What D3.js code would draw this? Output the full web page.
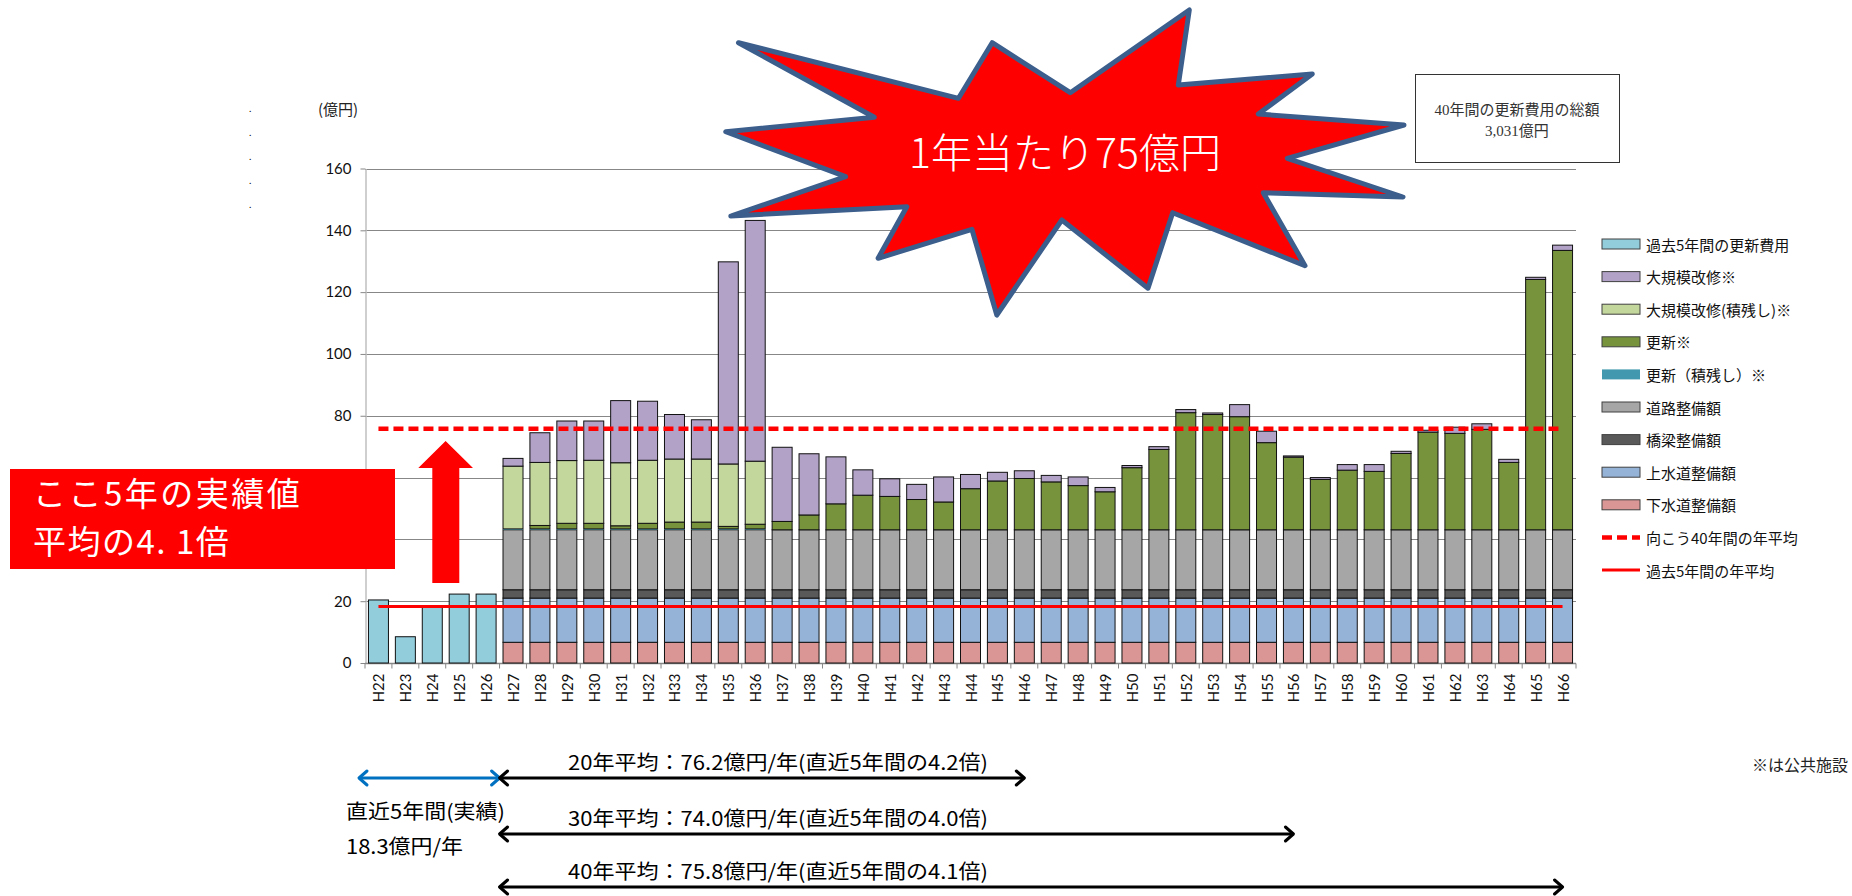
<!DOCTYPE html>
<html lang="ja">
<head>
<meta charset="utf-8">
<script src="https://cdn.jsdelivr.net/npm/d3@7"></script>
<style>
  html, body { margin: 0; padding: 0; background: #fff; }
  svg { display: block; }
  text { font-family: Lato, "Noto Sans CJK JP", sans-serif; }
  .jp { font-family: "Noto Sans CJK JP", sans-serif; }
</style>
</head>
<body>
<div id="chart"></div>
<script>
// categories (fiscal years, Heisei)
const years = ['H22', 'H23', 'H24', 'H25', 'H26', 'H27', 'H28', 'H29', 'H30', 'H31',
  'H32', 'H33', 'H34', 'H35', 'H36', 'H37', 'H38', 'H39', 'H40', 'H41',
  'H42', 'H43', 'H44', 'H45', 'H46', 'H47', 'H48', 'H49', 'H50', 'H51',
  'H52', 'H53', 'H54', 'H55', 'H56', 'H57', 'H58', 'H59', 'H60', 'H61',
  'H62', 'H63', 'H64', 'H65', 'H66'];

// actual renewal cost, H22-H26 (億円)
const pastCost = [20.4, 8.5, 18.0, 22.3, 22.3];

// forecast, H27-H66 (億円), bottom to top
const sewer = [6.7, 6.7, 6.7, 6.7, 6.7, 6.7, 6.7, 6.7, 6.7, 6.7,
  6.7, 6.7, 6.7, 6.7, 6.7, 6.7, 6.7, 6.7, 6.7, 6.7,
  6.7, 6.7, 6.7, 6.7, 6.7, 6.7, 6.7, 6.7, 6.7, 6.7,
  6.7, 6.7, 6.7, 6.7, 6.7, 6.7, 6.7, 6.7, 6.7, 6.7];
const water = [14.3, 14.3, 14.3, 14.3, 14.3, 14.3, 14.3, 14.3, 14.3, 14.3,
  14.3, 14.3, 14.3, 14.3, 14.3, 14.3, 14.3, 14.3, 14.3, 14.3,
  14.3, 14.3, 14.3, 14.3, 14.3, 14.3, 14.3, 14.3, 14.3, 14.3,
  14.3, 14.3, 14.3, 14.3, 14.3, 14.3, 14.3, 14.3, 14.3, 14.3];
const bridge = [2.7, 2.7, 2.7, 2.7, 2.7, 2.7, 2.7, 2.7, 2.7, 2.7,
  2.7, 2.7, 2.7, 2.7, 2.7, 2.7, 2.7, 2.7, 2.7, 2.7,
  2.7, 2.7, 2.7, 2.7, 2.7, 2.7, 2.7, 2.7, 2.7, 2.7,
  2.7, 2.7, 2.7, 2.7, 2.7, 2.7, 2.7, 2.7, 2.7, 2.7];
const road = [19.4, 19.4, 19.4, 19.4, 19.4, 19.4, 19.4, 19.4, 19.4, 19.4,
  19.4, 19.4, 19.4, 19.4, 19.4, 19.4, 19.4, 19.4, 19.4, 19.4,
  19.4, 19.4, 19.4, 19.4, 19.4, 19.4, 19.4, 19.4, 19.4, 19.4,
  19.4, 19.4, 19.4, 19.4, 19.4, 19.4, 19.4, 19.4, 19.4, 19.4];
const renewBacklog = [0.3, 0.3, 0.3, 0.3, 0.3, 0.3, 0.3, 0.3, 0.3, 0.3,
  0, 0, 0, 0, 0, 0, 0, 0, 0, 0,
  0, 0, 0, 0, 0, 0, 0, 0, 0, 0,
  0, 0, 0, 0, 0, 0, 0, 0, 0, 0];
const renew = [0, 1.1, 1.8, 1.8, 1.0, 1.8, 2.2, 2.2, 0.8, 1.5,
  2.7, 4.8, 8.4, 11.2, 10.8, 9.8, 9.0, 13.3, 15.8, 16.6,
  15.5, 14.3, 12.3, 20.1, 26.0, 37.9, 37.3, 36.6, 28.2, 23.5,
  16.3, 19.3, 18.9, 24.7, 31.6, 31.2, 32.5, 21.8, 81.0, 90.4];
const majorBacklog = [20.3, 20.4, 20.3, 20.4, 20.4, 20.4, 20.4, 20.4, 20.2, 20.4,
  0, 0, 0, 0, 0, 0, 0, 0, 0, 0,
  0, 0, 0, 0, 0, 0, 0, 0, 0, 0,
  0, 0, 0, 0, 0, 0, 0, 0, 0, 0];
const major = [2.5, 9.6, 12.8, 12.7, 20.1, 19.1, 14.4, 12.7, 65.4, 77.9,
  24.0, 19.8, 15.2, 8.2, 5.7, 4.9, 8.1, 4.6, 2.8, 2.5,
  2.1, 2.8, 1.4, 0.7, 0.9, 1.0, 0.5, 3.9, 3.7, 0.4,
  0.6, 1.8, 2.2, 0.7, 0.6, 2.0, 1.8, 1.0, 0.7, 1.7];

// averages (億円/年)
const avgFuture = 75.8;
const avgPast = 18.3;

const yTicks = [0, 20, 40, 60, 80, 100, 120, 140, 160];

const seriesKeys = ['past', 'sewer', 'water', 'bridge', 'road', 'renewBacklog', 'renew', 'majorBacklog', 'major'];
const seriesNames = {
  past: '過去5年間の更新費用',
  major: '大規模改修※',
  majorBacklog: '大規模改修(積残し)※',
  renew: '更新※',
  renewBacklog: '更新（積残し）※',
  road: '道路整備額',
  bridge: '橋梁整備額',
  water: '上水道整備額',
  sewer: '下水道整備額',
};
const legendOrder = ['past', 'major', 'majorBacklog', 'renew', 'renewBacklog', 'road', 'bridge', 'water', 'sewer'];

const spans = [
  { label: '20年平均：76.2億円/年(直近5年間の4.2倍)', from: 'H27', to: 'H46' },
  { label: '30年平均：74.0億円/年(直近5年間の4.0倍)', from: 'H27', to: 'H56' },
  { label: '40年平均：75.8億円/年(直近5年間の4.1倍)', from: 'H27', to: 'H66' },
];

const visualConfig = {
  area: { width: 1852, height: 896 },
  plot: { left: 365, right: 1576, top: 168.5, bottom: 663 },
  color: {
    past: '#92CDDC',
    major: '#B2A2C7',
    majorBacklog: '#C3D69B',
    renew: '#77933C',
    renewBacklog: '#4198AF',
    road: '#A6A6A6',
    bridge: '#595959',
    water: '#95B3D7',
    sewer: '#D99694',
  },
  grid: '#878787',
  avg: '#FF0000',
};

// build table rows for d3.stack
const rows = years.map((year, i) => {
  const row = { year };
  seriesKeys.forEach((k) => (row[k] = 0));
  if (i < pastCost.length) {
    row.past = pastCost[i];
  } else {
    const j = i - pastCost.length;
    row.sewer = sewer[j];
    row.water = water[j];
    row.bridge = bridge[j];
    row.road = road[j];
    row.renewBacklog = renewBacklog[j];
    row.renew = renew[j];
    row.majorBacklog = majorBacklog[j];
    row.major = major[j];
  }
  return row;
});

const stacked = d3.stack().keys(seriesKeys)(rows);

const svg = d3
  .select('#chart')
  .append('svg')
  .attr('width', visualConfig.area.width)
  .attr('height', visualConfig.area.height);

const p = visualConfig.plot;

const x = d3
  .scaleBand()
  .domain(years)
  .range([p.left, p.right])
  .paddingInner(0.257)
  .paddingOuter(0.1285);

const y = d3.scaleLinear().domain([0, 160]).range([p.bottom, p.top]);

const step = x.step();
const xStart = (d) => x(d) - (step - x.bandwidth()) / 2;
const xMid = (d) => x(d) + x.bandwidth() / 2;

// gridlines
svg
  .append('g')
  .selectAll('line')
  .data(yTicks.filter((t) => t > 0))
  .join('line')
  .attr('x1', p.left)
  .attr('x2', p.right)
  .attr('y1', (d) => Math.round(y(d)) + 0.5)
  .attr('y2', (d) => Math.round(y(d)) + 0.5)
  .attr('stroke', visualConfig.grid)
  .attr('stroke-width', 1);

// y axis
const yAxis = svg
  .append('g')
  .attr('transform', `translate(${p.left + 0.5},0)`)
  .call(d3.axisLeft(y).tickValues(yTicks).tickSize(5).tickPadding(9).tickSizeOuter(0));
yAxis.select('.domain').attr('stroke', '#BFBFBF').attr('stroke-width', 1.5);
yAxis.selectAll('.tick line').attr('stroke', visualConfig.grid);
yAxis
  .selectAll('.tick text')
  .style('font-family', 'Lato, sans-serif')
  .style('font-size', '15px')
  .attr('fill', '#111');

// x axis
const xAxis = svg.append('g').attr('transform', `translate(0,${Math.round(p.bottom) + 0.5})`);
xAxis
  .append('line')
  .attr('x1', p.left)
  .attr('x2', p.right)
  .attr('stroke', visualConfig.grid)
  .attr('stroke-width', 1.5);
xAxis
  .selectAll('line.tick')
  .data(years.concat(['end']))
  .join('line')
  .attr('class', 'tick')
  .attr('x1', (d) => (d === 'end' ? p.right : xStart(d)))
  .attr('x2', (d) => (d === 'end' ? p.right : xStart(d)))
  .attr('y1', 0)
  .attr('y2', 5)
  .attr('stroke', visualConfig.grid);
xAxis
  .selectAll('text')
  .data(years)
  .join('text')
  .attr('transform', (d) => `translate(${xMid(d)},10) rotate(-90)`)
  .attr('text-anchor', 'end')
  .attr('dominant-baseline', 'central')
  .style('font-size', '15px')
  .attr('fill', '#111')
  .text((d) => d);

// stacked bars
const barLayer = svg.append('g');
stacked.forEach((series) => {
  barLayer
    .append('g')
    .attr('fill', visualConfig.color[series.key])
    .selectAll('rect')
    .data(series.filter((d) => d[1] - d[0] > 0))
    .join('rect')
    .attr('x', (d) => x(d.data.year))
    .attr('width', x.bandwidth())
    .attr('y', (d) => y(d[1]))
    .attr('height', (d) => y(d[0]) - y(d[1]))
    .attr('stroke', series.key === 'renewBacklog' ? 'none' : '#111')
    .attr('stroke-width', 1);
});

// average lines
svg
  .append('line')
  .attr('x1', xMid(years[0]))
  .attr('x2', xMid(years[years.length - 1]) - 4)
  .attr('y1', y(avgFuture))
  .attr('y2', y(avgFuture))
  .attr('stroke', visualConfig.avg)
  .attr('stroke-width', 4.5)
  .attr('stroke-dasharray', '10,5');

svg
  .append('line')
  .attr('x1', xMid(years[0]))
  .attr('x2', xMid(years[years.length - 1]))
  .attr('y1', y(avgPast))
  .attr('y2', y(avgPast))
  .attr('stroke', visualConfig.avg)
  .attr('stroke-width', 3);

// "(億円)" and the dots on the left
svg
  .append('text')
  .attr('class', 'jp')
  .attr('x', 318)
  .attr('y', 108)
  .attr('dominant-baseline', 'central')
  .style('font-size', '15px')
  .attr('fill', '#222')
  .text('(億円)');

svg
  .append('g')
  .selectAll('text')
  .data([110, 134, 158, 182, 206])
  .join('text')
  .attr('x', 249)
  .attr('y', (d) => d + 2)
  .style('font-size', '10px')
  .attr('fill', '#000')
  .text('.');

// legend
const legend = svg.append('g');
const legendRow = (i) => 244 + i * 32.6;
legendOrder.forEach((key, i) => {
  const g = legend.append('g').attr('transform', `translate(1602,${legendRow(i)})`);
  g.append('rect')
    .attr('x', 0)
    .attr('y', -5)
    .attr('width', 38)
    .attr('height', 10)
    .attr('fill', visualConfig.color[key])
    .attr('stroke', key === 'renewBacklog' ? 'none' : '#404040')
    .attr('stroke-width', 1);
  g.append('text')
    .attr('class', 'jp')
    .attr('x', 44)
    .attr('y', 0)
    .attr('dominant-baseline', 'central')
    .style('font-size', '15px')
    .attr('fill', '#111')
    .text(seriesNames[key]);
});
[
  { label: '向こう40年間の年平均', dash: '10,5', width: 4.5 },
  { label: '過去5年間の年平均', dash: null, width: 3 },
].forEach((item, i) => {
  const g = legend
    .append('g')
    .attr('transform', `translate(1602,${legendRow(legendOrder.length + i)})`);
  g.append('line')
    .attr('x1', 0)
    .attr('x2', 38)
    .attr('stroke', visualConfig.avg)
    .attr('stroke-width', item.width)
    .attr('stroke-dasharray', item.dash);
  g.append('text')
    .attr('class', 'jp')
    .attr('x', 44)
    .attr('dominant-baseline', 'central')
    .style('font-size', '15px')
    .attr('fill', '#111')
    .text(item.label);
});

// total box (top right)
svg
  .append('rect')
  .attr('x', 1415.5)
  .attr('y', 74.5)
  .attr('width', 204)
  .attr('height', 88)
  .attr('fill', '#fff')
  .attr('stroke', '#333')
  .attr('stroke-width', 1);
svg
  .append('text')
  .attr('x', 1517)
  .attr('y', 115)
  .attr('text-anchor', 'middle')
  .style('font-family', '"Liberation Serif", "Noto Sans CJK JP", serif')
  .style('font-size', '15px')
  .attr('fill', '#333')
  .text('40年間の更新費用の総額');
svg
  .append('text')
  .attr('x', 1517)
  .attr('y', 136)
  .attr('text-anchor', 'middle')
  .style('font-family', '"Liberation Serif", "Noto Sans CJK JP", serif')
  .style('font-size', '15px')
  .attr('fill', '#333')
  .text('3,031億円');

// starburst callout
const burstPoints = [
  [738.5, 42.7], [958.5, 98.3], [992.2, 42.7], [1070.3, 92.7], [1189.3, 10],
  [1178.3, 85], [1312.3, 74], [1258.3, 114], [1404, 125], [1287.3, 158.3],
  [1403, 197], [1263.3, 192.7], [1305, 265.7], [1172.7, 212.7], [1148, 288.3],
  [1061.8, 220], [996.8, 315], [971.9, 229.3], [878.1, 258.3], [906.8, 206.7],
  [730.8, 216], [845.6, 176.7], [725.8, 131.7], [874.3, 117.3],
];
svg
  .append('path')
  .attr('d', d3.line()(burstPoints) + 'Z')
  .attr('fill', '#FF0000')
  .attr('stroke', '#3B5E8C')
  .attr('stroke-width', 5)
  .attr('stroke-linejoin', 'round');
svg
  .append('text')
  .attr('class', 'jp')
  .attr('x', 1065)
  .attr('y', 168)
  .attr('text-anchor', 'middle')
  .style('font-size', '41px')
  .style('font-weight', 300)
  .attr('fill', '#fff')
  .text('1年当たり75億円');

// red note box and up arrow
svg
  .append('rect')
  .attr('x', 10)
  .attr('y', 469)
  .attr('width', 385)
  .attr('height', 100)
  .attr('fill', '#FF0000');
svg
  .append('text')
  .attr('class', 'jp')
  .attr('x', 33)
  .attr('y', 506)
  .style('font-size', '33px')
  .style('letter-spacing', '2.5px')
  .attr('fill', '#fff')
  .text('ここ5年の実績値');
svg
  .append('text')
  .attr('class', 'jp')
  .attr('x', 33)
  .attr('y', 554)
  .style('font-size', '33px')
  .style('letter-spacing', '1.5px')
  .attr('fill', '#fff')
  .text('平均の4. 1倍');

svg
  .append('path')
  .attr('d', d3.line()([
    [445.6, 441], [473, 468], [459.3, 468], [459.3, 583], [432.3, 583], [432.3, 468], [418.3, 468],
  ]) + 'Z')
  .attr('fill', '#FF0000');

// period arrows below the chart
function doubleArrow(g, x1, x2, yy, color) {
  g.append('line')
    .attr('x1', x1)
    .attr('x2', x2)
    .attr('y1', yy)
    .attr('y2', yy)
    .attr('stroke', color)
    .attr('stroke-width', 3);
  [[x1, 1], [x2, -1]].forEach(([xx, dir]) => {
    g.append('path')
      .attr('d', `M${xx + dir * 8},${yy - 7}L${xx},${yy}L${xx + dir * 8},${yy + 7}`)
      .attr('fill', 'none')
      .attr('stroke', color)
      .attr('stroke-width', 3)
      .attr('stroke-linecap', 'round')
      .attr('stroke-linejoin', 'round');
  });
}

const arrows = svg.append('g');
const arrowY = [778, 834, 887];
doubleArrow(arrows, xStart(years[0]) - 6, xStart(spans[0].from), arrowY[0], '#0070C0');
spans.forEach((s, i) => {
  doubleArrow(arrows, xStart(s.from), xMid(s.to), arrowY[i], '#000');
  arrows
    .append('text')
    .attr('class', 'jp')
    .attr('x', 568)
    .attr('y', arrowY[i] - 8)
    .style('font-size', '20px')
    .attr('textLength', 420)
    .attr('lengthAdjust', 'spacingAndGlyphs')
    .attr('fill', '#000')
    .text(s.label);
});
arrows
  .append('text')
  .attr('class', 'jp')
  .attr('x', 346)
  .attr('y', 819)
  .style('font-size', '20px')
  .attr('textLength', 159)
  .attr('lengthAdjust', 'spacingAndGlyphs')
  .attr('fill', '#000')
  .text('直近5年間(実績)');
arrows
  .append('text')
  .attr('class', 'jp')
  .attr('x', 346)
  .attr('y', 854)
  .style('font-size', '20px')
  .attr('textLength', 117)
  .attr('lengthAdjust', 'spacingAndGlyphs')
  .attr('fill', '#000')
  .text('18.3億円/年');

svg
  .append('text')
  .attr('class', 'jp')
  .attr('x', 1848)
  .attr('y', 771)
  .attr('text-anchor', 'end')
  .style('font-size', '16px')
  .attr('fill', '#222')
  .text('※は公共施設');
</script>
</body>
</html>
